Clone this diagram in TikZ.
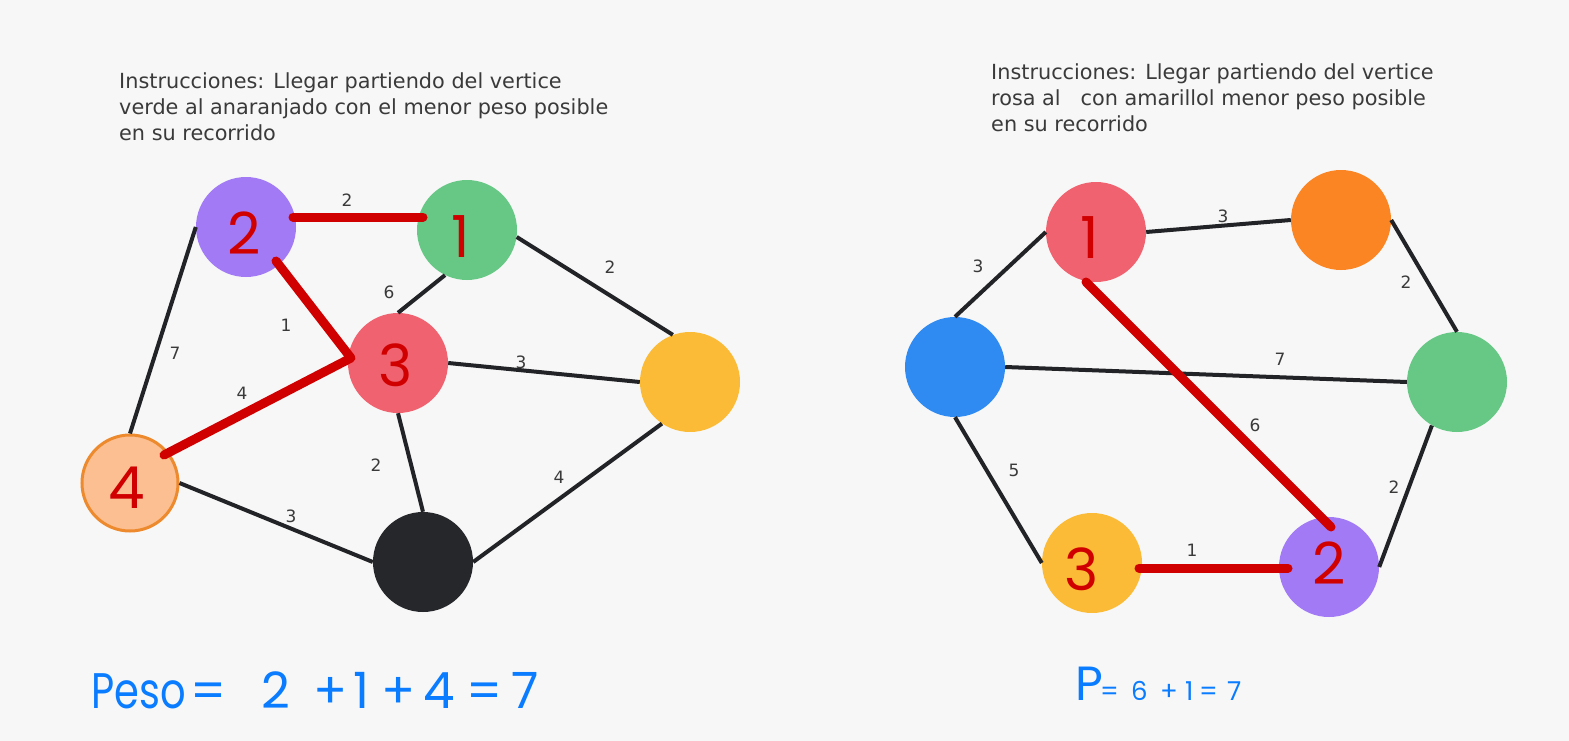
\documentclass[tikz,border=0pt]{standalone}
\usepackage{graphicx}
\usepackage{fontspec}
\setmainfont{DejaVu Sans}
\newfontfamily\handfont{Poppins}
\newcommand{\tok}[2]{\makebox[#1pt][l]{#2}}
\begin{document}
\definecolor{bgc}{HTML}{F7F7F7}
\definecolor{edgec}{HTML}{222326}
\definecolor{txtc}{HTML}{3A3A3A}
\definecolor{markc}{HTML}{D00000}
\definecolor{inkc}{HTML}{0A7CFF}
\definecolor{vpurple}{HTML}{A27AF6}
\definecolor{vgreen}{HTML}{67C886}
\definecolor{vrose}{HTML}{F0626F}
\definecolor{vyellow}{HTML}{FBBB36}
\definecolor{vpeach}{HTML}{FBBF92}
\definecolor{vpeachb}{HTML}{EE8A2E}
\definecolor{vblack}{HTML}{26272B}
\definecolor{vorange}{HTML}{FC8523}
\definecolor{vblue}{HTML}{2F8BF2}
\begin{tikzpicture}[x=1pt,y=-1pt,
  vert/.style={circle,minimum size=100pt,inner sep=0pt,draw=none},
  edge/.style={draw=edgec,line width=4pt},
  route/.style={draw=markc,line width=9pt,line cap=round,line join=round},
  wlabel/.style={font=\fontsize{17}{17}\selectfont,text=txtc,inner sep=0pt},
  instr/.style={font=\fontsize{20.8}{26}\selectfont,text=txtc,align=left,anchor=north west,inner sep=0pt},
  handmark/.style={font=\handfont\fontsize{58}{58}\selectfont,text=markc,inner sep=0pt},
  ink/.style={font=\handfont\fontsize{50}{50}\selectfont,text=inkc,inner sep=0pt,anchor=base west}]
\useasboundingbox (0,0) rectangle (1569,741);
\fill[bgc] (0,0) rectangle (1569,741);

% ---------- left graph ----------
\node[instr] (instrA) at (119,72) {Instrucciones: Llegar partiendo del vertice\\verde al anaranjado con el menor peso posible\\en su recorrido};

\node[vert,fill=vpurple] (aP) at (246,227) {};
\node[vert,fill=vgreen]  (aG) at (467,230) {};
\node[vert,fill=vrose]   (aR) at (398,363) {};
\node[vert,fill=vyellow] (aY) at (690,382) {};
\node[vert,fill=vpeach,draw=vpeachb,line width=3pt,minimum size=96pt] (aO) at (130,483) {};
\node[vert,fill=vblack]  (aB) at (423,562) {};

\draw[edge] (aP.11) -- (aG.165);
\draw[edge] (aP.180) -- (aO.90);
\draw[edge] (aP.-49) -- (aR.174);
\draw[edge] (aG.-116) -- (aR.90);
\draw[edge] (aG.-8) -- (aY.110);
\draw[edge] (aR.0) -- (aY.180);
\draw[edge] (aR.174) -- (aO.40);
\draw[edge] (aR.-90) -- (aB.90);
\draw[edge] (aO.0) -- (aB.180);
\draw[edge] (aB.0) -- (aY.-124);

\node[wlabel] (wa1) at (347,200) {2};
\node[wlabel] (wa2) at (175,353) {7};
\node[wlabel] (wa3) at (286,325) {1};
\node[wlabel] (wa4) at (389,292) {6};
\node[wlabel] (wa5) at (610,267) {2};
\node[wlabel] (wa6) at (521,362) {3};
\node[wlabel] (wa7) at (242,393) {4};
\node[wlabel] (wa8) at (376,465) {2};
\node[wlabel] (wa9) at (291,516) {3};
\node[wlabel] (wa10) at (559,477) {4};

% shortest route, marked by hand
\coordinate (ma1) at (293,217);
\coordinate (ma2) at (423,217);
\coordinate (ma3) at (276,261);
\coordinate (ma4) at (351,358);
\coordinate (ma5) at (164,455);
\draw[route] (ma1) -- (ma2);
\draw[route] (ma3) -- (ma4) -- (ma5);

\node[handmark] (na1) at (244,233) {2};
\node[handmark] (na2) at (461,237) {1};
\node[handmark] (na3) at (396,365) {3};
\node[handmark] (na4) at (127,488) {4};

\node[ink] (sumA) at (91,708) {\tok{99}{\scalebox{0.8}[1]{Peso}}\tok{71}{=}\tok{52}{2}\tok{40}{+}\tok{28}{1}\tok{42}{+}\tok{43}{4}\tok{45}{=}7};

% ---------- right graph ----------
\node[instr] (instrB) at (991,63) {Instrucciones: Llegar partiendo del vertice\\rosa al\ \ \ con amarillol menor peso posible\\en su recorrido};

\node[vert,fill=vrose]   (bR) at (1096,232) {};
\node[vert,fill=vorange] (bO) at (1341,220) {};
\node[vert,fill=vblue]   (bB) at (955,367) {};
\node[vert,fill=vgreen]  (bG) at (1457,382) {};
\node[vert,fill=vyellow] (bY) at (1092,563) {};
\node[vert,fill=vpurple] (bP) at (1329,567) {};

\draw[edge] (bR.0) -- (bO.180);
\draw[edge] (bR.180) -- (bB.90);
\draw[edge] (bO.0) -- (bG.90);
\draw[edge] (bB.0) -- (bG.180);
\draw[edge] (bR.-101) -- (bP.99);
\draw[edge] (bB.-90) -- (bY.180);
\draw[edge] (bG.-120) -- (bP.0);
\draw[edge] (bY.-6) -- (bP.180);

\node[wlabel] (wb1) at (1223,216) {3};
\node[wlabel] (wb2) at (978,266) {3};
\node[wlabel] (wb3) at (1406,282) {2};
\node[wlabel] (wb4) at (1280,359) {7};
\node[wlabel] (wb5) at (1255,425) {6};
\node[wlabel] (wb6) at (1014,470) {5};
\node[wlabel] (wb7) at (1394,487) {2};
\node[wlabel] (wb8) at (1192,550) {1};

\coordinate (mb1) at (1086,282);
\coordinate (mb2) at (1331,527);
\coordinate (mb3) at (1139,568);
\coordinate (mb4) at (1288,568);
\draw[route] (mb1) -- (mb2);
\draw[route] (mb3) -- (mb4);

\node[handmark] (nb1) at (1090,238) {1};
\node[handmark] (nb2) at (1329,563) {2};
\node[handmark] (nb3) at (1082,569) {3};

\node[ink,font=\handfont\fontsize{26}{26}\selectfont] (sumB) at (1075,700) {\tok{25}{\fontsize{48}{48}\selectfont P}\tok{31}{=}\tok{29}{6}\tok{25}{+}\tok{14}{1}\tok{28}{=}7};
\end{tikzpicture}
\end{document}
